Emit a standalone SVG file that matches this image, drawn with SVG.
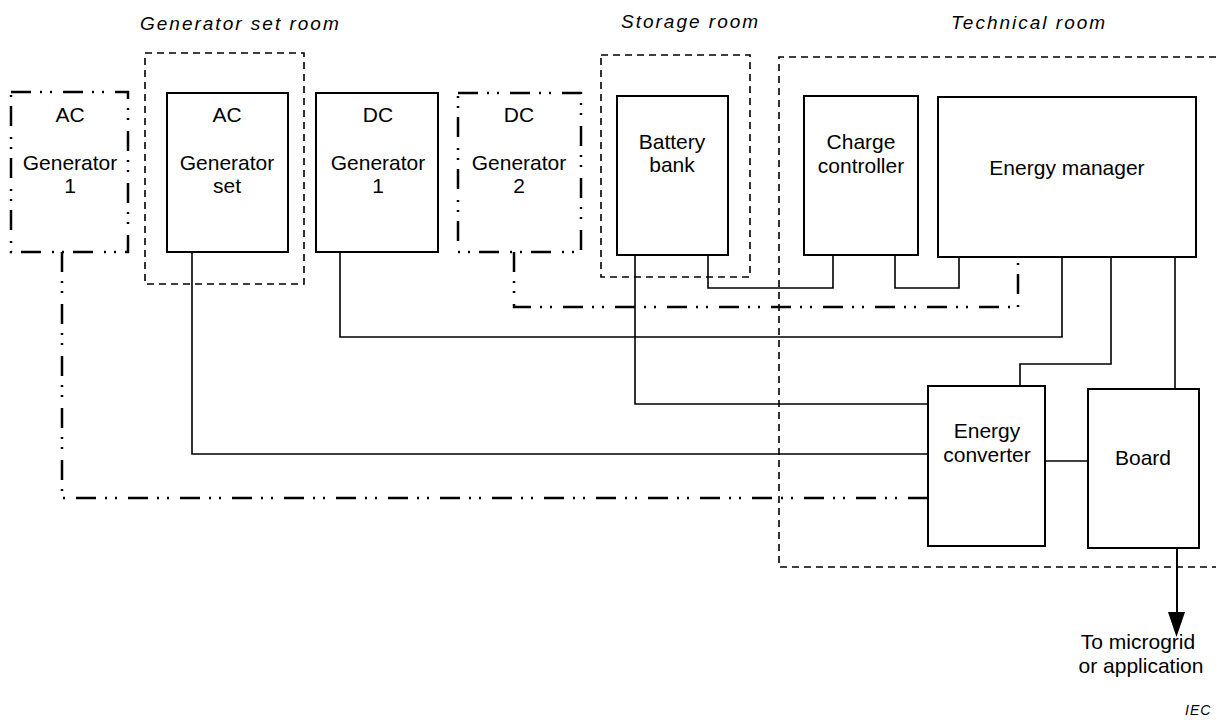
<svg xmlns="http://www.w3.org/2000/svg" width="1216" height="726" viewBox="0 0 1216 726">
<defs>
<style>
.box{fill:#fff;stroke:#000;stroke-width:2}
.ddbox{fill:#fff;stroke:#000;stroke-width:2.5;stroke-dasharray:20 9 2 8 2 11}
.room{fill:none;stroke:#000;stroke-width:1.6;stroke-dasharray:7 5}
.wire{fill:none;stroke:#000;stroke-width:1.6}
.dd{fill:none;stroke:#000;stroke-width:2.5;stroke-dasharray:20 9 2 8 2 11}
.t{font-family:"Liberation Sans",Arial,sans-serif;font-size:21px;fill:#000;text-anchor:middle}
.title{font-family:"Liberation Sans",Arial,sans-serif;font-size:19px;font-style:italic;letter-spacing:2px;fill:#000}
</style>
</defs>
<rect width="1216" height="726" fill="#fff"/>
<g id="rooms">
<rect class="room" x="145" y="53" width="159" height="231"/>
<rect class="room" x="601" y="55" width="149" height="222"/>
<path class="room" d="M1216,57 H779 V567 H1216"/>
<text class="title" x="140" y="30">Generator set room</text>
<text class="title" x="621" y="28">Storage room</text>
<text class="title" x="951" y="29">Technical room</text>
</g>
<g id="connectors">
<path class="dd" d="M62,252 V498 H928"/>
<path class="wire" d="M192,252 V454 H928"/>
<path class="wire" d="M340,252 V337 H1062 V257"/>
<path class="dd" d="M514,252 V307 H1018 V257"/>
<path class="wire" d="M635,255 V404 H928"/>
<path class="wire" d="M708,255 V288 H833 V255"/>
<path class="wire" d="M895,255 V288 H959 V257"/>
<path class="wire" d="M1111,257 V364 H1020 V386"/>
<path class="wire" d="M1175,257 V389"/>
<path class="wire" d="M1045,461 H1088"/>
<path class="wire" d="M1177,548 V614" style="stroke-width:2"/>
<polygon points="1168,612 1185,612 1176.5,637" fill="#000"/>
</g>
<g id="ac-generator-1">
<rect class="ddbox" x="11" y="92" width="117" height="160"/>
<text class="t" x="70" y="122">AC</text>
<text class="t" x="70" y="170">Generator</text>
<text class="t" x="70" y="193">1</text>
</g>
<g id="ac-generator-set">
<rect class="box" x="167" y="93" width="121" height="159"/>
<text class="t" x="227" y="122">AC</text>
<text class="t" x="227" y="170">Generator</text>
<text class="t" x="227" y="193">set</text>
</g>
<g id="dc-generator-1">
<rect class="box" x="316" y="93" width="122" height="159"/>
<text class="t" x="378" y="122">DC</text>
<text class="t" x="378" y="170">Generator</text>
<text class="t" x="378" y="193">1</text>
</g>
<g id="dc-generator-2">
<rect class="ddbox" x="458" y="93" width="123" height="159"/>
<text class="t" x="519" y="122">DC</text>
<text class="t" x="519" y="170">Generator</text>
<text class="t" x="519" y="193">2</text>
</g>
<g id="battery-bank">
<rect class="box" x="617" y="96" width="111" height="159"/>
<text class="t" x="672" y="149">Battery</text>
<text class="t" x="672" y="172">bank</text>
</g>
<g id="charge-controller">
<rect class="box" x="804" y="96" width="114" height="159"/>
<text class="t" x="861" y="149">Charge</text>
<text class="t" x="861" y="173">controller</text>
</g>
<g id="energy-manager">
<rect class="box" x="938" y="97" width="258" height="160"/>
<text class="t" x="1067" y="175">Energy manager</text>
</g>
<g id="energy-converter">
<rect class="box" x="928" y="386" width="117" height="160"/>
<text class="t" x="987" y="438">Energy</text>
<text class="t" x="987" y="462">converter</text>
</g>
<g id="board">
<rect class="box" x="1088" y="389" width="111" height="159"/>
<text class="t" x="1143" y="465">Board</text>
</g>
<g id="labels">
<text class="t" x="1138" y="649">To microgrid</text>
<text class="t" x="1141" y="673">or application</text>
<text x="1185" y="715" style="font-family:'Liberation Sans',Arial,sans-serif;font-size:14px;font-style:italic;letter-spacing:1px">IEC</text>
</g>
</svg>
